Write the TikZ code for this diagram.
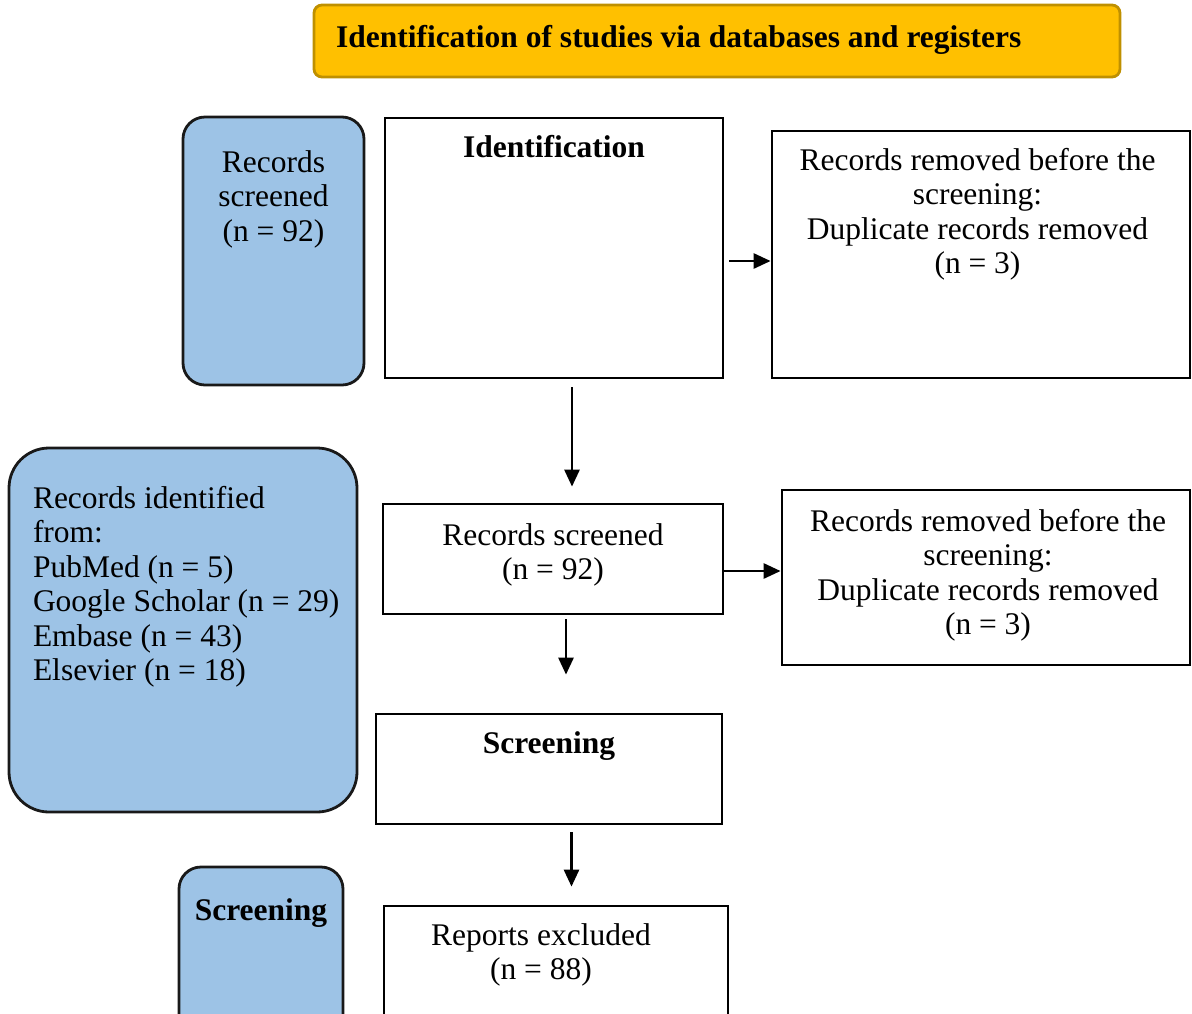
\documentclass[tikz,border=0pt]{standalone}
\usepackage{fontspec}
\setmainfont{Liberation Serif}
\usetikzlibrary{arrows.meta}
\definecolor{boxblue}{HTML}{9DC3E6}
\definecolor{titleyellow}{HTML}{FFC000}
\definecolor{titleborder}{HTML}{BF9000}
\tikzset{
  box/.style={draw=black, line width=2.8pt, rectangle, inner sep=0pt},
  bluebox/.style={box, fill=boxblue, draw=black!90},
  txt/.style={inner sep=0pt, outer sep=0pt, font=\fontsize{31.5}{34.5}\selectfont},
  btxt/.style={txt, font=\fontsize{31.5}{34.5}\selectfont\bfseries},
  arr/.style={line width=2.8pt, -{Triangle[length=17pt,width=15pt]}}
}
\begin{document}
\begin{tikzpicture}[x=1pt,y=-1pt]
\clip (0,0) rectangle (1192,1013);
% boxes
\node[box, fill=titleyellow, draw=titleborder, rounded corners=8pt, minimum width=806pt, minimum height=72pt] (title) at (717,41) {};
\node[bluebox, rounded corners=22pt, minimum width=181pt, minimum height=268pt] (blue1) at (273.5,251) {};
\node[box, minimum width=338pt, minimum height=260pt] (ident) at (554,248) {};
\node[box, minimum width=418pt, minimum height=247pt] (rem1) at (981,254.5) {};
\node[bluebox, rounded corners=40pt, minimum width=348pt, minimum height=364pt] (blue2) at (183,630) {};
\node[box, minimum width=340pt, minimum height=110pt] (scr1) at (553,559) {};
\node[box, minimum width=408pt, minimum height=175pt] (rem2) at (986,577.5) {};
\node[box, minimum width=346pt, minimum height=110pt] (scrn) at (549,769) {};
\node[bluebox, rounded corners=22pt, minimum width=164pt, minimum height=193pt] (blue3) at (261,963.5) {};
\node[box, minimum width=344pt, minimum height=154pt] (rep) at (556,983) {};
% texts
\node[btxt, anchor=base west] (titletxt) at (336,47) {Identification of studies via databases and registers};
\node[txt, anchor=north, align=center] (blue1txt) at (273.5,147.85) {\strut Records\\screened\\(n = 92)};
\node[btxt, anchor=base] (identtxt) at (554,157) {Identification};
\node[txt, anchor=north, align=center] (rem1txt) at (977.5,145.85) {\strut Records removed before the\\screening:\\Duplicate records removed\\(n = 3)};
\node[txt, anchor=north west, align=left] (blue2txt) at (33,483.85) {\strut Records identified\\from:\\PubMed (n = 5)\\Google Scholar (n = 29)\\Embase (n = 43)\\Elsevier (n = 18)};
\node[txt, anchor=north, align=center] (scr1txt) at (553,520.85) {\strut Records screened\\(n = 92)};
\node[txt, anchor=north, align=center] (rem2txt) at (988,506.85) {\strut Records removed before the\\screening:\\Duplicate records removed\\(n = 3)};
\node[btxt, anchor=base] (scrntxt) at (549,753) {Screening};
\node[btxt, anchor=base] (blue3txt) at (261,920) {Screening};
\node[txt, anchor=north, align=center] (reptxt) at (541,920.85) {\strut Reports excluded\\(n = 88)};
% connectors
\draw[arr] ([xshift=5pt,yshift=-13pt]ident.east) -- ([yshift=-6.5pt]rem1.west);
\draw[arr] ([xshift=18pt,yshift=-8pt]ident.south) -- ([xshift=19pt,yshift=16pt]scr1.north);
\draw[arr] ([yshift=-12pt]scr1.east) -- ([yshift=6.5pt]rem2.west);
\draw[arr] ([xshift=13pt,yshift=-4pt]scr1.south) -- ([xshift=17pt,yshift=38pt]scrn.north);
\draw[arr] ([xshift=22.5pt,yshift=-7pt]scrn.south) -- ([xshift=15.5pt,yshift=18pt]rep.north);
\end{tikzpicture}
\end{document}
